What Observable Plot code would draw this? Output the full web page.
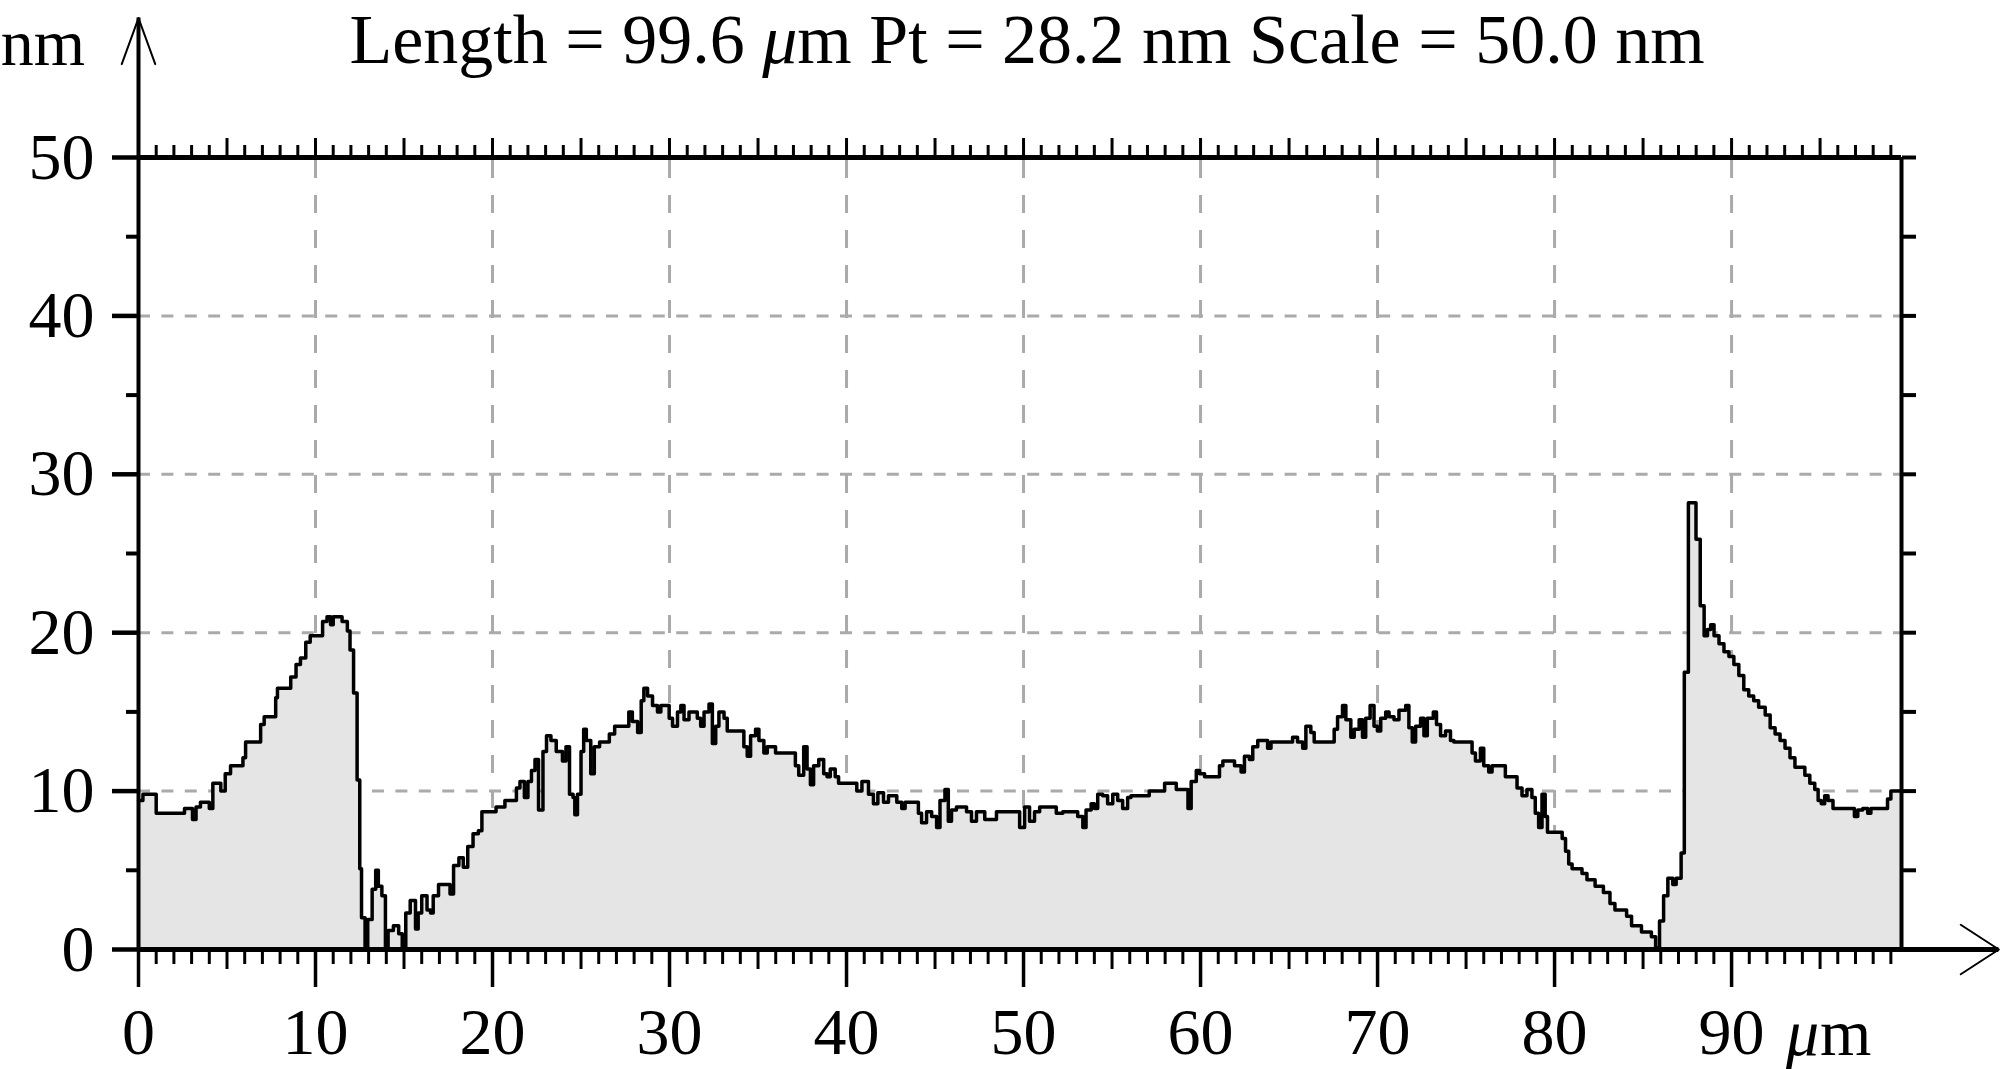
<!DOCTYPE html>
<html><head><meta charset="utf-8">
<script src="https://cdn.jsdelivr.net/npm/d3@7"></script>
<script src="https://cdn.jsdelivr.net/npm/@observablehq/plot@0.6"></script>
<style>
html,body{margin:0;padding:0;background:#fff;}
#wrap{position:relative;width:2003px;height:1069px;overflow:hidden;font-family:"Liberation Serif","Times New Roman",serif;color:#000;}
#chart{position:absolute;left:0;top:0;}
#title{position:absolute;left:27px;width:2000px;top:0px;text-align:center;font-size:70px;line-height:normal;white-space:nowrap;}
#ylab{position:absolute;left:0;width:85px;top:5px;text-align:right;font-size:66px;line-height:normal;white-space:nowrap;}
</style></head><body>
<div id="wrap"><div id="chart"></div><div id="title">Length = 99.6 <i>μ</i>m Pt = 28.2 nm Scale = 50.0 nm</div><div id="ylab">nm</div></div>
<script>
// Height profile (µm along the line, nm height)
const profileX = [0,0.25,1.0,2.6,3.05,3.25,3.5,4.0,4.2,4.65,4.9,5.2,5.9,6.05,6.9,7.1,7.75,7.85,8.6,8.9,9.15,9.45,9.7,10.4,10.65,10.85,11.0,11.5,11.8,11.95,12.15,12.35,12.5,12.6,12.8,12.95,13.2,13.4,13.55,13.75,13.95,14.1,14.4,14.7,14.9,15.1,15.35,15.65,15.8,16.0,16.3,16.5,16.65,16.95,17.6,17.8,18.1,18.35,18.6,18.9,19.2,19.4,20.2,20.7,21.35,21.55,21.8,22.0,22.2,22.4,22.6,22.85,23.05,23.3,23.6,23.95,24.15,24.35,24.55,24.65,24.8,25.0,25.15,25.3,25.55,25.75,26.05,26.6,26.9,27.7,27.9,28.2,28.4,28.55,
28.76,29.04,29.32,29.51,29.98,30.17,30.45,30.64,30.82,31.1,31.57,31.76,31.95,32.23,32.42,32.61,32.79,33.08,33.26,34.2,34.39,34.58,34.86,35.05,35.33,35.52,35.99,37.11,37.3,37.58,37.77,37.96,38.14,38.43,38.71,38.9,39.08,39.36,39.55,40.58,40.87,41.24,41.52,41.77,42.09,42.37,42.84,43.12,43.31,44.06,44.24,44.52,44.81,45.09,45.28,45.56,45.75,45.93,46.21,46.78,47.06,47.34,47.81,48.47,49.78,50.06,50.34,50.62,50.91,51.85,52.22,53.06,53.35,53.53,53.82,54.0,54.19,54.47,54.75,55.04,55.32,55.6,55.88,56.07,57.1,
57.97,58.63,59.29,59.47,59.76,59.94,60.23,61.07,61.26,61.92,62.29,62.48,62.76,62.95,63.23,63.79,63.98,65.2,65.48,65.77,65.95,66.23,66.42,67.55,67.74,68.02,68.21,68.49,68.68,68.96,69.15,69.33,69.58,69.8,69.99,70.18,70.46,70.65,70.93,71.21,71.59,71.77,71.96,72.15,72.43,72.62,72.81,73.15,73.33,73.56,73.84,74.12,74.31,75.34,75.53,75.81,76.0,76.28,76.47,77.22,77.88,78.16,78.44,78.72,78.91,79.1,79.29,
79.47,79.6,80.43,80.62,80.8,80.99,81.55,81.83,82.29,82.76,83.13,83.41,84.07,84.35,84.91,85.47,85.71,85.93,86.16,86.4,86.68,86.87,87.15,87.33,87.56,87.99,88.23,88.45,88.64,88.82,89.01,89.29,89.57,89.85,90.13,90.41,90.69,90.97,91.25,91.53,91.9,92.18,92.46,92.74,93.02,93.3,93.58,94.14,94.42,94.7,94.89,95.07,95.26,95.45,95.73,96.94,97.13,97.41,97.69,97.87,98.81,99.0,99.6];
const profileY = [9.4,9.8,8.6,8.9,8.2,9.0,9.3,8.9,10.5,10.0,11.1,11.6,12.1,13.1,14.2,14.7,15.9,16.5,17.2,18.0,18.4,19.4,19.8,20.7,21.0,20.5,21.0,20.7,20.1,18.9,16.2,10.7,5.1,2.0,0.0,1.9,3.8,5.0,4.0,3.4,0.0,1.2,1.5,1.0,0.1,2.3,3.1,1.3,2.3,3.4,2.5,2.3,3.4,4.1,3.5,5.3,5.8,5.2,6.5,7.3,7.5,8.7,9.0,9.4,10.2,10.6,9.6,10.6,11.3,12.0,8.8,12.5,13.5,13.2,12.5,11.9,12.8,9.8,9.6,8.5,9.8,12.5,13.9,13.2,11.1,12.8,13.1,13.6,14.1,15.0,14.4,13.7,15.7,16.5,
16.0,15.4,15.0,15.4,14.6,14.1,15.0,15.4,14.5,15.0,14.6,14.1,15.0,15.5,13.0,14.1,15.0,14.6,13.8,12.8,12.2,13.5,13.9,13.2,12.4,12.8,12.4,11.6,11.0,12.8,11.4,10.4,11.6,12.0,11.1,10.9,11.4,10.9,10.5,10.0,10.6,9.8,9.2,9.9,9.3,9.7,9.3,8.9,9.3,8.6,8.0,8.7,8.4,7.7,9.4,10.1,8.1,8.8,9.0,8.7,8.1,8.7,8.2,8.7,7.7,9.0,8.1,8.7,9.0,8.6,8.7,8.4,7.7,8.8,9.2,8.9,9.8,9.7,9.2,9.8,9.4,8.9,9.6,9.7,10.0,
10.5,10.1,8.9,10.6,11.3,11.1,10.9,11.6,11.9,11.6,11.2,12.2,12.0,12.8,13.2,12.7,13.1,13.4,13.1,12.7,14.1,13.7,13.1,13.9,14.7,15.4,14.5,13.4,13.9,14.5,13.4,14.6,15.4,14.1,13.8,14.6,15.0,14.7,14.5,15.1,15.4,14.0,13.1,14.1,14.6,13.5,14.6,15.0,14.2,13.5,13.8,13.2,13.1,12.4,11.9,12.7,11.6,11.2,11.6,10.9,10.2,9.7,10.1,9.6,8.6,7.7,9.8,
8.4,7.4,7.0,6.2,5.4,5.1,4.8,4.4,4.0,3.6,2.9,2.5,2.1,1.5,1.1,0.8,0.1,1.8,3.4,4.5,4.1,4.5,6.1,17.5,28.2,25.9,21.7,19.8,20.2,20.5,19.8,19.3,18.8,18.5,18.0,17.3,16.4,16.0,15.7,15.3,14.8,14.0,13.6,13.2,12.7,12.1,11.5,11.0,10.5,10.1,9.4,9.2,9.7,9.4,8.9,8.4,8.8,8.9,8.6,8.9,9.5,10.0,10.0];

const xDomain = [0, 99.6];          // µm
const yDomain = [0, 50];            // nm
const xLabelTicks = [0, 10, 20, 30, 40, 50, 60, 70, 80, 90];
const yLabelTicks = [0, 10, 20, 30, 40, 50];
const xUnitTick = [90];
const xAxisEnd = 105.1;             // x axis arrow tip (µm)
const yAxisEnd = 58.8;              // y axis arrow tip (nm)

const profile = profileX.map((x, i) => ({x, y: profileY[i]}));
const xMinor = d3.range(1, 100).filter(v => v % 5 !== 0);
const xFive = d3.range(5, 100, 10);
const xTen = d3.range(0, 100, 10);
const yTen = d3.range(0, 51, 10);
const yFive = d3.range(5, 50, 10);
const yRight = d3.range(0, 51, 5);
const font = "Liberation Serif";

const chart = Plot.plot({
  width: 2003, height: 1069,
  marginLeft: 138, marginRight: 102, marginTop: 157, marginBottom: 120,
  x: {domain: xDomain},
  y: {domain: yDomain},
  style: {background: "white", fontFamily: font, color: "black", overflow: "visible"},
  marks: [
    Plot.ruleX(xTen.filter(v => v > 0), {stroke: "#aaaaaa", strokeWidth: 3, strokeDasharray: "18,17", strokeDashoffset: 32}),
    Plot.ruleY(yTen.filter(v => v > 0 && v < 50), {stroke: "#aaaaaa", strokeWidth: 3, strokeDasharray: "12,11.4"}),
    Plot.areaY(profile, {x: "x", y: "y", curve: "step-after", fill: "#e5e5e5"}),
    Plot.line(profile, {x: "x", y: "y", curve: "step-after", stroke: "black", strokeWidth: 3.5}),
    // frame and axes lines
    Plot.ruleY([50], {stroke: "black", strokeWidth: 5}),
    Plot.ruleX([xDomain[1]], {stroke: "black", strokeWidth: 4}),
    Plot.ruleY([0], {x1: 0, x2: xAxisEnd, stroke: "black", strokeWidth: 5}),
    Plot.ruleX([0], {y1: 0, y2: yAxisEnd, stroke: "black", strokeWidth: 4}),
    // tick marks
    Plot.axisX({anchor: "bottom", ticks: xMinor, tickSize: 15, strokeWidth: 3, fill: "none", label: null}),
    Plot.axisX({anchor: "bottom", ticks: xFive, tickSize: 20, strokeWidth: 3, fill: "none", label: null}),
    Plot.axisX({anchor: "bottom", ticks: xTen, tickSize: 38, strokeWidth: 3.5, fill: "none", label: null}),
    Plot.axisX({anchor: "top", ticks: xMinor, tickSize: 13, strokeWidth: 3, fill: "none", label: null}),
    Plot.axisX({anchor: "top", ticks: xFive.concat(xTen.filter(v => v > 0)), tickSize: 20, strokeWidth: 3, fill: "none", label: null}),
    Plot.axisY({anchor: "left", ticks: yTen, tickSize: 26, strokeWidth: 4.5, fill: "none", label: null}),
    Plot.axisY({anchor: "left", ticks: yFive, tickSize: 12, strokeWidth: 4, fill: "none", label: null}),
    Plot.axisY({anchor: "right", ticks: yRight, tickSize: 14, strokeWidth: 4, fill: "none", label: null}),
    // tick labels
    Plot.axisX({anchor: "bottom", ticks: xLabelTicks, tickSize: 0, tickPadding: 58, fontSize: 66, fontFamily: font, fill: "black", label: null}),
    Plot.axisY({anchor: "left", ticks: yLabelTicks, tickSize: 0, tickPadding: 44, fontSize: 66, fontFamily: font, fill: "black", label: null}),
    Plot.text(xUnitTick, {x: d => d, frameAnchor: "bottom", text: () => "μ", textAnchor: "start", lineAnchor: "bottom", dx: 54.5, dy: 105, fontSize: 66, fontFamily: font, fontStyle: "italic", fill: "black"}),
    Plot.text(xUnitTick, {x: d => d, frameAnchor: "bottom", text: () => "m", textAnchor: "start", lineAnchor: "bottom", dx: 88.5, dy: 105, fontSize: 66, fontFamily: font, fill: "black"}),
    // arrow heads
    Plot.arrow([{x1: 0, y1: 48, x2: 0, y2: yAxisEnd}], {x1: "x1", y1: "y1", x2: "x2", y2: "y2", stroke: "black", strokeWidth: 2, headAngle: 40, headLength: 36.75}),
    Plot.arrow([{x1: 95, y1: 0, x2: xAxisEnd, y2: 0}], {x1: "x1", y1: "y1", x2: "x2", y2: "y2", stroke: "black", strokeWidth: 2, headAngle: 66, headLength: 34.1})
  ]
});
document.getElementById("chart").appendChild(chart);
</script>
</body></html>
